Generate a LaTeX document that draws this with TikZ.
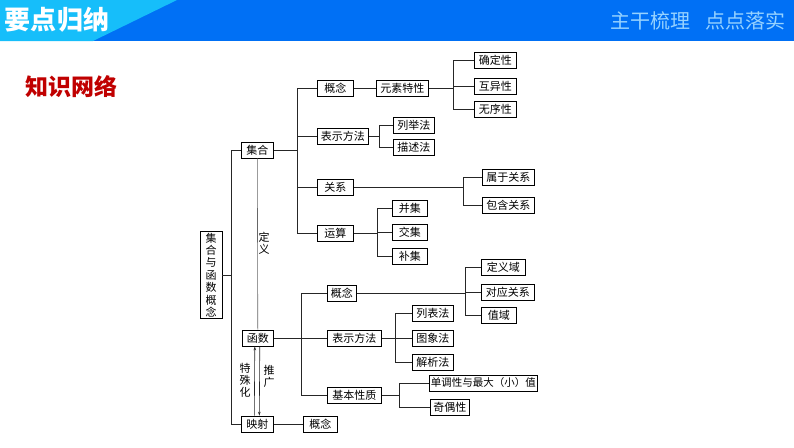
\documentclass[tikz,border=0pt]{standalone}
\usepackage{fontspec}
\setmainfont{Noto Sans CJK SC}
\usetikzlibrary{arrows.meta}
\definecolor{bandblue}{RGB}{0,112,245}
\definecolor{bandcyan}{RGB}{22,190,250}
\definecolor{paleblue}{RGB}{150,210,255}
\definecolor{titlered}{RGB}{192,0,0}

\begin{document}
\begin{tikzpicture}[x=1pt, y=-1pt,
    box/.style={draw, line width=0.6pt, rectangle, anchor=west, inner xsep=3pt, inner ysep=0pt,
                minimum height=16pt, font=\fontsize{11}{12}\selectfont},
    lnk/.style={line width=0.6pt, black!85},
    vtext/.style={align=center, inner sep=0pt, font=\fontsize{11}{12}\selectfont}]
    \useasboundingbox (0,0) rectangle (794,447);
    \fill[bandblue] (0,0) rectangle (794,41);
    \fill[bandcyan] (0,0) -- (177,0) -- (93,41) -- (0,41) -- cycle;
    \node[white, font=\fontsize{26}{26}\bfseries] (yd) at (57,20) {要点归纳};
    \node[paleblue, font=\fontsize{20}{20}\selectfont] (zg) at (650,21) {主干梳理};
    \node[paleblue, font=\fontsize{20}{20}\selectfont] (dd) at (745,21) {点点落实};
    \node[titlered, font=\fontsize{23}{23}\bfseries] (zs) at (71,87) {知识网络};

    \node[draw, line width=0.6pt, vtext, minimum width=22pt, minimum height=87pt,
          font=\fontsize{11}{12.4}\selectfont] (zong) at (211,275) {集\\合\\与\\函\\数\\概\\念};
    \node[box, minimum width=32pt] (jihe) at (241,150) {集合};
    \node[box, minimum width=31pt] (hanshu) at (242,338) {函数};
    \node[box, minimum width=32pt] (yingshe) at (241,424) {映射};

    \node[box, minimum width=36pt] (jgn) at (317,88) {概念};
    \node[box, minimum width=51pt] (jbs) at (317,136) {表示方法};
    \node[box, minimum width=36pt] (jgx) at (317,187) {关系};
    \node[box, minimum width=36pt] (jys) at (317,233) {运算};
    \node[box, minimum width=52pt] (ysx) at (376,88) {元素特性};
    \node[box, minimum width=42pt] (qdx) at (474,60) {确定性};
    \node[box, minimum width=42pt] (hyx) at (474,86) {互异性};
    \node[box, minimum width=42pt] (wxx) at (474,109) {无序性};
    \node[box, minimum width=41pt] (ljf) at (393,125) {列举法};
    \node[box, minimum width=41pt] (msf) at (393,147) {描述法};
    \node[box, minimum width=52pt] (sygx) at (482,177) {属于关系};
    \node[box, minimum width=52pt] (bhgx) at (482,205) {包含关系};
    \node[box, minimum width=35pt] (bj) at (392,208) {并集};
    \node[box, minimum width=35pt] (jj) at (392,232) {交集};
    \node[box, minimum width=35pt] (buj) at (392,256) {补集};

    \node[box, minimum width=29pt] (hgn) at (327,293) {概念};
    \node[box, minimum width=54pt] (hbs) at (327,338) {表示方法};
    \node[box, minimum width=54pt] (hxz) at (327,395) {基本性质};
    \node[box, minimum width=44pt] (dyy) at (481,267) {定义域};
    \node[box, minimum width=53pt] (dygx) at (481,292) {对应关系};
    \node[box, minimum width=35pt] (zy) at (481,315) {值域};
    \node[box, minimum width=41pt] (lbf) at (412,313) {列表法};
    \node[box, minimum width=41pt] (txf) at (412,338) {图象法};
    \node[box, minimum width=41pt] (jxf) at (412,362) {解析法};
    \node[box, minimum width=108pt, inner xsep=1pt, font=\fontsize{10.5}{12}\selectfont] (ddx) at (429,383) {单调性与最大（小）值};
    \node[box, minimum width=38pt] (jox) at (430,407) {奇偶性};
    \node[box, minimum width=34pt] (ygn) at (303,424) {概念};

    \coordinate (lt) at (231,275);
    \coordinate (jt) at (297,150);
    \coordinate (yt) at (453,88);
    \coordinate (bt) at (379,136);
    \coordinate (gt) at (463,187);
    \coordinate (st) at (377,233);
    \coordinate (ht) at (301,338);
    \coordinate (gnt) at (465,293);
    \coordinate (bst) at (395,338);
    \coordinate (xzt) at (399,395);

    \draw[lnk] (zong) -- (lt);
    \draw[lnk] (lt) |- (jihe);
    \draw[lnk] (lt) |- (yingshe);
    \draw[lnk] (jihe) -- (jt);
    \foreach \n in {jgn,jbs,jgx,jys} \draw[lnk] (jt) |- (\n);
    \draw[lnk] (jgn) -- (ysx);
    \draw[lnk] (ysx) -- (yt);
    \foreach \n in {qdx,hyx,wxx} \draw[lnk] (yt) |- (\n);
    \draw[lnk] (jbs) -- (bt);
    \foreach \n in {ljf,msf} \draw[lnk] (bt) |- (\n);
    \draw[lnk] (jgx) -- (gt);
    \foreach \n in {sygx,bhgx} \draw[lnk] (gt) |- (\n);
    \draw[lnk] (jys) -- (st);
    \foreach \n in {bj,jj,buj} \draw[lnk] (st) |- (\n);
    \draw[lnk] (hanshu) -- (ht);
    \foreach \n in {hgn,hbs,hxz} \draw[lnk] (ht) |- (\n);
    \draw[lnk] (hgn) -- (gnt);
    \foreach \n in {dyy,dygx,zy} \draw[lnk] (gnt) |- (\n);
    \draw[lnk] (hbs) -- (bst);
    \foreach \n in {lbf,txf,jxf} \draw[lnk] (bst) |- (\n);
    \draw[lnk] (hxz) -- (xzt);
    \foreach \n in {ddx,jox} \draw[lnk] (xzt) |- (\n);
    \draw[lnk] (yingshe) -- (ygn);

    \draw[lnk, black!60] (jihe.south) -- (hanshu.north);
    \node[vtext] (dy) at (264,243) {定\\义};
    \draw[lnk, -{Stealth[length=4pt, width=2.5pt]}] ([xshift=-3pt]yingshe.north) -- ([xshift=-3pt]hanshu.south);
    \draw[lnk, -{Stealth[length=4pt, width=2.5pt]}] ([xshift=2pt]hanshu.south) -- ([xshift=2pt]yingshe.north);
    \node[vtext] (tsh) at (245,380) {特\\殊\\化};
    \node[vtext] (tg) at (269,376) {推\\广};
\end{tikzpicture}
\end{document}
